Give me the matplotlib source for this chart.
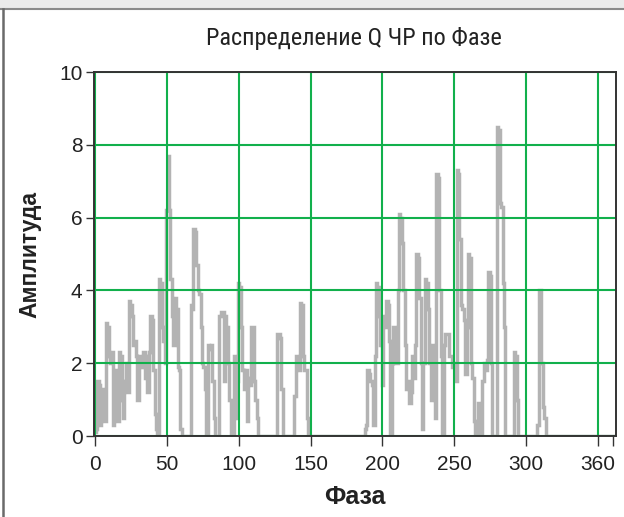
import matplotlib
matplotlib.use("Agg")
import matplotlib.pyplot as plt
import matplotlib.font_manager as fm
from matplotlib.lines import Line2D
from matplotlib.patches import Rectangle

title = "Распределение Q ЧР по Фазе"
x_label = "Фаза"
y_label = "Амплитуда"

phase = list(range(0, 361))
amplitude = [
    0.1, 0.2, 1.5, 1.4, 0.3, 0.9, 1.3, 0.4, 3.1, 3.0,
    2.2, 2.0, 2.3, 0.3, 1.8, 1.0, 0.4, 2.3, 2.2, 1.0,
    0.5, 1.5, 2.0, 1.2, 3.7, 3.6, 3.3, 2.5, 2.6, 2.2,
    1.0, 2.2, 2.0, 1.9, 2.3, 1.6, 2.2, 1.2, 2.3, 3.3,
    3.2, 1.8, 0.6, 0.2, 0.0, 4.3, 4.2, 3.0, 2.6, 2.0,
    6.2, 7.7, 6.2, 4.3, 3.3, 2.5, 3.8, 3.5, 1.9, 1.8,
    0.2, 0.0, 0.0, 0.0, 0.0, 0.0, 0.0, 3.6, 3.5, 5.7,
    5.6, 4.7, 4.0, 3.9, 3.0, 2.0, 1.9, 1.3, 0.0, 2.5,
    2.4, 2.5, 1.5, 0.5, 0.0, 0.0, 0.0, 3.3, 3.4, 3.4,
    1.5, 3.3, 3.0, 2.0, 1.0, 0.0, 0.0, 2.2, 0.5, 1.5,
    4.2, 4.1, 3.0, 1.8, 1.3, 1.8, 0.4, 1.6, 1.4, 3.0,
    3.0, 1.5, 1.0, 0.5, 0.0, 0.0, 0.0, 0.0, 0.0, 0.0,
    0.0, 0.0, 0.0, 0.0, 0.0, 0.0, 0.0, 2.8, 2.8, 2.7,
    1.3, 0.0, 0.0, 0.0, 0.0, 0.0, 0.0, 0.0, 0.0, 1.1,
    2.2, 2.1, 1.8, 3.65, 3.6, 2.2, 1.8, 1.8, 0.5, 0.0,
    0.0, 0.0, 0.0, 0.0, 0.0, 0.0, 0.0, 0.0, 0.0, 0.0,
    0.0, 0.0, 0.0, 0.0, 0.0, 0.0, 0.0, 0.0, 0.0, 0.0,
    0.0, 0.0, 0.0, 0.0, 0.0, 0.0, 0.0, 0.0, 0.0, 0.0,
    0.0, 0.0, 0.0, 0.0, 0.0, 0.0, 0.0, 0.0, 0.2, 0.3,
    1.8, 1.7, 1.5, 1.4, 0.3, 2.2, 4.2, 4.1, 3.3, 2.5,
    1.4, 3.3, 3.0, 3.7, 3.6, 2.6, 0.0, 2.0, 3.0, 2.0,
    2.0, 4.0, 6.1, 6.0, 5.3, 4.0, 2.5, 1.3, 1.5, 0.9,
    1.2, 2.2, 1.6, 2.5, 5.0, 4.9, 3.8, 2.0, 0.2, 2.0,
    4.3, 4.2, 3.5, 2.0, 1.0, 2.5, 2.2, 0.5, 7.2, 7.1,
    4.0, 2.2, 0.0, 2.5, 2.8, 2.8, 2.8, 2.2, 2.2, 1.9,
    2.0, 1.5, 7.3, 7.2, 5.4, 3.6, 3.5, 3.2, 1.7, 3.0,
    5.0, 4.9, 2.0, 1.6, 0.4, 0.0, 0.0, 0.9, 0.0, 0.0,
    1.5, 2.0, 1.8, 2.1, 4.5, 4.4, 2.0, 0.0, 0.0, 0.0,
    8.5, 8.4, 6.4, 6.3, 4.2, 3.0, 0.0, 0.0, 0.0, 0.0,
    0.0, 0.0, 2.3, 2.2, 1.0, 0.0, 0.0, 0.0, 0.0, 0.0,
    0.0, 0.0, 0.0, 0.0, 0.0, 0.0, 0.0, 0.0, 0.3, 4.0,
    4.0, 2.0, 0.8, 0.5, 0.0, 0.0, 0.0, 0.0, 0.0, 0.0,
    0.0, 0.0, 0.0, 0.0, 0.0, 0.0, 0.0, 0.0, 0.0, 0.0,
    0.0, 0.0, 0.0, 0.0, 0.0, 0.0, 0.0, 0.0, 0.0, 0.0,
    0.0, 0.0, 0.0, 0.0, 0.0, 0.0, 0.0, 0.0, 0.0, 0.0,
    0.0, 0.0, 0.0, 0.0, 0.0, 0.0, 0.0, 0.0, 0.0, 0.0,
    0.0,
]

x_ticks = [0, 50, 100, 150, 200, 250, 300, 350]
x_tick_labels = ["0", "50", "100", "150", "200", "250", "300", "360"]
y_ticks = [0, 2, 4, 6, 8, 10]
y_tick_labels = ["0", "2", "4", "6", "8", "10"]

plt.rcParams["font.family"] = ["Liberation Sans", "DejaVu Sans"]

# pick a condensed font for the title if one is installed
title_prop = None
prefs = ["RobotoCondensed-Regular", "RobotoCondensed[", "LiberationSansNarrow-Regular",
         "NotoSans-CondensedRegular", "NotoSans-Condensed.", "OpenSans-CondensedRegular",
         "OpenSans_Condensed-Regular", "DejaVuSansCondensed."]
files = [f.fname for f in fm.fontManager.ttflist]
for pref in prefs:
    hit = [p for p in files if pref in p.replace("\\", "/").split("/")[-1]]
    if hit:
        title_prop = fm.FontProperties(fname=hit[0], size=17.5)
        break
if title_prop is None:
    title_prop = fm.FontProperties(family="Liberation Sans", size=16)

W, H = 624, 517
fig = plt.figure(figsize=(W / 100, H / 100), dpi=100)
fig.patch.set_facecolor("white")

ax = fig.add_axes([93.5 / W, 1 - 436 / H, (616 - 93.5) / W, (436 - 72) / H])
ax.plot(phase, amplitude, color="#b3b3b3", lw=2.5, drawstyle="steps-mid",
        solid_joinstyle="miter", zorder=2)

ax.set_xlim(-1, 362.4)
ax.set_ylim(0, 10)
ax.set_xticks(x_ticks)
ax.set_xticklabels(x_tick_labels)
ax.set_xticks([360], minor=True)
ax.set_yticks(y_ticks)
ax.set_yticklabels(y_tick_labels)

ax.set_axisbelow(False)
ax.grid(True, which="major", color="#12b04c", lw=1.5, zorder=3)
for s in ax.spines.values():
    s.set_color("#333333")
    s.set_linewidth(1.4)
    s.set_zorder(5)

ax.tick_params(axis="both", which="both", direction="out", color="#333333",
               width=1.0, labelsize=15, labelcolor="#222222")
ax.tick_params(axis="x", which="both", length=7, pad=7)
ax.tick_params(axis="y", length=6, pad=2)

ax.set_xlabel(x_label, fontsize=18, fontweight="bold", color="#222222", va="center")
ax.xaxis.set_label_coords((355 - 93.5) / 522.5, (436 - 497) / 364)
ax.set_ylabel(y_label, fontsize=16.5, fontweight="bold", color="#222222", va="center")
ax.yaxis.set_label_coords((30 - 93.5) / 522.5, 0.5)

fig.text(354 / W, 1 - 38 / H, title, ha="center", va="center",
         fontproperties=title_prop, color="#222222")

# window frame
fig.add_artist(Rectangle((0, H - 8), W, 8, transform=None, facecolor="#ebebeb",
                         edgecolor="none", zorder=0))
fig.add_artist(Line2D([0, W], [H - 8.5, H - 8.5], transform=None, color="#8a8a8a", lw=1.5))
fig.add_artist(Line2D([2.5, 2.5], [0, H - 8.5], transform=None, color="#6a6a6a", lw=1.8))

fig.savefig("out.png", dpi=100)
